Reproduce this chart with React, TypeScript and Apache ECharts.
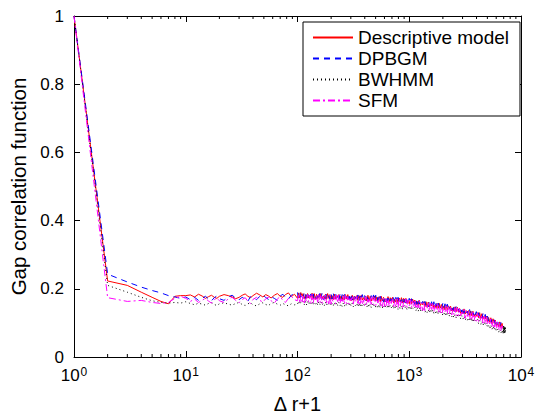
import React, { useEffect, useRef } from "react";
import * as echarts from "echarts";

// Δr+1 sample positions (main samples)
const gapX = [
  1, 2, 3, 4, 5, 6, 7, 8, 9, 10,
  11, 12, 13, 14, 15, 16, 17, 18, 19, 20, 22, 24, 26, 28, 30, 32, 34, 36, 38, 40, 43, 46, 49, 52, 55, 58, 62, 66, 70, 74, 78, 83, 88, 94,
  100, 107, 110, 118, 120, 129, 132, 141, 145, 155, 159, 170, 174, 186, 191, 204, 209, 224, 229, 245, 251, 269, 275, 295, 302, 324, 331, 355, 363, 389, 398, 427, 437, 468, 479, 513, 525, 562, 575, 617, 631, 676, 692, 741, 759, 813, 832, 891, 912, 977,
  1000, 1072, 1096, 1175, 1202, 1288, 1318, 1413, 1445, 1549, 1585, 1698, 1738, 1862, 1905, 2042, 2089, 2239, 2291, 2455, 2512, 2692, 2754, 2951, 3020, 3236, 3311, 3548, 3631, 3890, 3981, 4266, 4365, 4677, 4786, 5129, 5248, 5623, 5754, 6166, 6310, 6761, 6918,
];
// extra interleaved samples of the dense part (100 .. 6918)
const gapXMid = [
  102, 105, 112, 115, 123, 126, 135, 138, 148, 152, 162, 166, 178, 182, 195, 200, 214, 219, 234, 240, 257, 263, 282, 288, 309, 316, 339, 347, 372, 380, 407, 417, 447, 457, 490, 501, 537, 550, 589, 603, 646, 661, 708, 724, 776, 794, 851, 871, 933, 955,
  1023, 1047, 1122, 1148, 1230, 1259, 1349, 1380, 1479, 1514, 1622, 1660, 1778, 1820, 1950, 1995, 2138, 2188, 2344, 2399, 2570, 2630, 2818, 2884, 3090, 3162, 3388, 3467, 3715, 3802, 4074, 4169, 4467, 4571, 4898, 5012, 5370, 5495, 5888, 6026, 6457, 6607,
];

const descriptiveModel = [
  1, 0.223, 0.21, 0.19, 0.175, 0.163, 0.156, 0.178, 0.18, 0.18,
  0.182, 0.176, 0.184, 0.179, 0.172, 0.177, 0.181, 0.175, 0.172, 0.178, 0.183, 0.18, 0.176, 0.171, 0.175, 0.181, 0.185, 0.178, 0.174, 0.18, 0.187, 0.182, 0.176, 0.183, 0.179, 0.173, 0.181, 0.186, 0.178, 0.175, 0.183, 0.188, 0.177, 0.184,
  0.172, 0.189, 0.178, 0.183, 0.172, 0.18, 0.175, 0.186, 0.169, 0.183, 0.175, 0.179, 0.171, 0.186, 0.172, 0.18, 0.168, 0.182, 0.175, 0.179, 0.168, 0.183, 0.17, 0.177, 0.165, 0.178, 0.171, 0.18, 0.167, 0.174, 0.167, 0.181, 0.164, 0.175, 0.169, 0.176, 0.163, 0.178, 0.165, 0.171, 0.16, 0.174, 0.163, 0.17, 0.161, 0.173, 0.161, 0.172, 0.16, 0.167,
  0.156, 0.17, 0.159, 0.164, 0.153, 0.158, 0.153, 0.162, 0.146, 0.158, 0.15, 0.153, 0.144, 0.157, 0.144, 0.15, 0.138, 0.15, 0.142, 0.144, 0.134, 0.146, 0.132, 0.137, 0.126, 0.136, 0.128, 0.135, 0.121, 0.126, 0.12, 0.13, 0.113, 0.12, 0.112, 0.116, 0.102, 0.112, 0.099, 0.101, 0.088, 0.099, 0.084,
];
const descriptiveModelMid = [
  0.188, 0.173, 0.186, 0.171, 0.186, 0.173, 0.187, 0.17, 0.184, 0.171, 0.186, 0.171, 0.184, 0.169, 0.183, 0.169, 0.184, 0.17, 0.183, 0.168, 0.181, 0.168, 0.183, 0.169, 0.181, 0.166, 0.18, 0.166, 0.181, 0.167, 0.179, 0.164, 0.178, 0.164, 0.179, 0.165, 0.177, 0.162, 0.175, 0.162, 0.177, 0.162, 0.175, 0.159, 0.173, 0.159, 0.174, 0.159, 0.172, 0.157,
  0.17, 0.156, 0.167, 0.153, 0.166, 0.151, 0.162, 0.148, 0.161, 0.147, 0.158, 0.144, 0.157, 0.143, 0.154, 0.14, 0.152, 0.138, 0.149, 0.135, 0.147, 0.133, 0.143, 0.128, 0.141, 0.126, 0.136, 0.122, 0.134, 0.119, 0.13, 0.115, 0.127, 0.111, 0.12, 0.104, 0.115, 0.099, 0.108, 0.092, 0.103, 0.087,
];

const dpbgm = [
  1, 0.243, 0.22, 0.205, 0.195, 0.188, 0.18, 0.176, 0.172, 0.176,
  0.168, 0.175, 0.166, 0.172, 0.178, 0.17, 0.165, 0.174, 0.179, 0.171, 0.166, 0.176, 0.181, 0.173, 0.168, 0.175, 0.17, 0.164, 0.177, 0.172, 0.168, 0.178, 0.183, 0.174, 0.169, 0.177, 0.172, 0.166, 0.179, 0.184, 0.175, 0.17, 0.181, 0.187,
  0.189, 0.175, 0.184, 0.171, 0.19, 0.178, 0.185, 0.171, 0.18, 0.175, 0.188, 0.168, 0.184, 0.175, 0.18, 0.17, 0.187, 0.172, 0.181, 0.168, 0.183, 0.175, 0.179, 0.168, 0.184, 0.169, 0.177, 0.164, 0.179, 0.171, 0.181, 0.166, 0.174, 0.167, 0.182, 0.163, 0.175, 0.169, 0.176, 0.162, 0.179, 0.165, 0.171, 0.158, 0.175, 0.161, 0.17, 0.159, 0.174, 0.16,
  0.172, 0.159, 0.166, 0.154, 0.17, 0.157, 0.163, 0.15, 0.157, 0.151, 0.162, 0.144, 0.157, 0.148, 0.152, 0.143, 0.156, 0.142, 0.149, 0.136, 0.148, 0.14, 0.142, 0.13, 0.144, 0.129, 0.134, 0.122, 0.134, 0.124, 0.133, 0.118, 0.123, 0.115, 0.125, 0.105, 0.114, 0.105, 0.109, 0.094, 0.106, 0.091, 0.093,
];
const dpbgmMid = [
  0.173, 0.188, 0.172, 0.188, 0.174, 0.189, 0.172, 0.185, 0.17, 0.187, 0.172, 0.187, 0.17, 0.185, 0.169, 0.185, 0.171, 0.186, 0.169, 0.183, 0.167, 0.184, 0.169, 0.185, 0.167, 0.182, 0.166, 0.182, 0.168, 0.183, 0.165, 0.179, 0.164, 0.18, 0.165, 0.181, 0.163, 0.178, 0.161, 0.178, 0.164, 0.178, 0.161, 0.174, 0.159, 0.175, 0.16, 0.175, 0.158, 0.172,
  0.157, 0.171, 0.154, 0.17, 0.155, 0.168, 0.15, 0.163, 0.147, 0.163, 0.147, 0.162, 0.144, 0.158, 0.141, 0.157, 0.141, 0.155, 0.137, 0.15, 0.133, 0.149, 0.132, 0.146, 0.128, 0.141, 0.123, 0.139, 0.123, 0.135, 0.118, 0.13, 0.114, 0.127, 0.109, 0.12, 0.102, 0.113, 0.096, 0.108, 0.091, 0.101,
];

const bwhmm = [
  1, 0.21, 0.19, 0.175, 0.165, 0.16, 0.158, 0.16, 0.158, 0.162,
  0.157, 0.153, 0.158, 0.155, 0.152, 0.157, 0.159, 0.154, 0.151, 0.156, 0.159, 0.155, 0.152, 0.157, 0.16, 0.154, 0.151, 0.156, 0.159, 0.153, 0.15, 0.156, 0.159, 0.154, 0.151, 0.157, 0.16, 0.155, 0.152, 0.157, 0.153, 0.15, 0.156, 0.153,
  0.154, 0.16, 0.157, 0.163, 0.152, 0.162, 0.156, 0.158, 0.153, 0.163, 0.154, 0.158, 0.151, 0.16, 0.155, 0.157, 0.15, 0.16, 0.151, 0.156, 0.148, 0.157, 0.152, 0.159, 0.149, 0.154, 0.15, 0.158, 0.147, 0.154, 0.15, 0.155, 0.146, 0.155, 0.148, 0.151, 0.143, 0.153, 0.144, 0.15, 0.144, 0.152, 0.144, 0.151, 0.142, 0.147, 0.14, 0.15, 0.143, 0.146,
  0.139, 0.144, 0.14, 0.146, 0.134, 0.142, 0.135, 0.137, 0.131, 0.14, 0.13, 0.134, 0.126, 0.134, 0.128, 0.13, 0.121, 0.13, 0.12, 0.124, 0.115, 0.123, 0.116, 0.121, 0.111, 0.114, 0.108, 0.116, 0.103, 0.108, 0.104, 0.107, 0.096, 0.103, 0.093, 0.093, 0.083, 0.09, 0.079, 0.082, 0.073, 0.079, 0.067,
];
const bwhmmMid = [
  0.164, 0.154, 0.163, 0.153, 0.163, 0.154, 0.163, 0.152, 0.161, 0.152, 0.162, 0.152, 0.161, 0.151, 0.16, 0.15, 0.16, 0.151, 0.16, 0.15, 0.158, 0.149, 0.159, 0.15, 0.158, 0.148, 0.157, 0.147, 0.157, 0.148, 0.156, 0.146, 0.155, 0.145, 0.155, 0.146, 0.154, 0.144, 0.152, 0.143, 0.153, 0.143, 0.152, 0.141, 0.15, 0.14, 0.15, 0.14, 0.149, 0.139,
  0.149, 0.138, 0.146, 0.136, 0.145, 0.134, 0.142, 0.131, 0.139, 0.129, 0.138, 0.128, 0.136, 0.125, 0.133, 0.123, 0.131, 0.121, 0.129, 0.118, 0.125, 0.115, 0.123, 0.112, 0.12, 0.108, 0.115, 0.105, 0.113, 0.102, 0.11, 0.098, 0.105, 0.093, 0.1, 0.088, 0.094, 0.081, 0.087, 0.075, 0.082, 0.07,
];
// the dense black end of the BWHMM curve
const bwhmmTailX = [6940, 6960, 6980, 7000, 7020, 7040, 7060, 7080, 7100, 7120, 7140, 7160, 7180, 7200, 7220, 7240, 7260, 7280];
const bwhmmTail = [0.091, 0.071, 0.09, 0.072, 0.092, 0.07, 0.089, 0.073, 0.09, 0.071, 0.088, 0.072, 0.089, 0.074, 0.087, 0.073, 0.086, 0.076];

const sfm = [
  1, 0.174, 0.163, 0.166, 0.16, 0.157, 0.16, 0.172, 0.178, 0.172,
  0.163, 0.17, 0.16, 0.166, 0.172, 0.164, 0.158, 0.168, 0.173, 0.165, 0.16, 0.17, 0.175, 0.166, 0.159, 0.168, 0.174, 0.163, 0.157, 0.169, 0.175, 0.166, 0.161, 0.171, 0.176, 0.165, 0.158, 0.17, 0.177, 0.166, 0.16, 0.172, 0.178, 0.168,
  0.165, 0.183, 0.162, 0.175, 0.163, 0.181, 0.157, 0.173, 0.164, 0.183, 0.159, 0.177, 0.166, 0.175, 0.156, 0.169, 0.161, 0.182, 0.158, 0.171, 0.159, 0.18, 0.156, 0.171, 0.165, 0.176, 0.162, 0.172, 0.151, 0.168, 0.151, 0.17, 0.157, 0.177, 0.153, 0.166, 0.158, 0.17, 0.147, 0.174, 0.15, 0.167, 0.157, 0.163, 0.146, 0.172, 0.15, 0.161, 0.149, 0.167,
  0.15, 0.165, 0.145, 0.157, 0.144, 0.159, 0.136, 0.151, 0.142, 0.158, 0.135, 0.152, 0.14, 0.147, 0.129, 0.141, 0.132, 0.15, 0.127, 0.138, 0.125, 0.144, 0.12, 0.132, 0.126, 0.134, 0.119, 0.128, 0.107, 0.121, 0.105, 0.12, 0.107, 0.123, 0.098, 0.107, 0.097, 0.106, 0.083, 0.103, 0.079, 0.092, 0.079,
];
const sfmMid = [
  0.184, 0.161, 0.182, 0.158, 0.183, 0.161, 0.184, 0.158, 0.181, 0.157, 0.18, 0.157, 0.182, 0.158, 0.181, 0.155, 0.178, 0.156, 0.181, 0.157, 0.179, 0.154, 0.177, 0.155, 0.179, 0.155, 0.178, 0.152, 0.175, 0.153, 0.177, 0.153, 0.176, 0.15, 0.173, 0.151, 0.175, 0.151, 0.173, 0.148, 0.171, 0.148, 0.173, 0.148, 0.171, 0.145, 0.168, 0.145, 0.17, 0.145,
  0.168, 0.144, 0.164, 0.141, 0.164, 0.139, 0.161, 0.136, 0.157, 0.134, 0.157, 0.133, 0.155, 0.13, 0.151, 0.128, 0.15, 0.126, 0.148, 0.123, 0.143, 0.12, 0.142, 0.117, 0.139, 0.113, 0.133, 0.11, 0.132, 0.107, 0.128, 0.104, 0.123, 0.099, 0.118, 0.094, 0.112, 0.088, 0.105, 0.082, 0.099, 0.076,
];

const seriesNames = ["Descriptive model", "DPBGM", "BWHMM", "SFM"];
const minorTickValues = [
  2, 3, 4, 5, 6, 7, 8, 9,
  20, 30, 40, 50, 60, 70, 80, 90,
  200, 300, 400, 500, 600, 700, 800, 900,
  2000, 3000, 4000, 5000, 6000, 7000, 8000, 9000,
];

const FONT = "'Liberation Sans', Arial, Helvetica, sans-serif";

function merge(ys: number[], mids: number[], tailX: number[] = [], tail: number[] = []) {
  const pts: number[][] = [];
  ys.forEach((y, i) => pts.push([gapX[i], y]));
  mids.forEach((y, i) => pts.push([gapXMid[i], y]));
  tail.forEach((y, i) => pts.push([tailX[i], y]));
  pts.sort((a, b) => a[0] - b[0]);
  return pts;
}

export default function App() {
  const ref = useRef<HTMLDivElement>(null);
  useEffect(() => {
    if (!ref.current) return;
    const chart = echarts.init(ref.current, undefined, { renderer: "svg" });
    const axisLine = { show: true, onZero: false, lineStyle: { color: "#000", width: 1 } };
    const tick = { show: true, inside: true, length: 6, lineStyle: { color: "#000", width: 1 } };
    const lineSeries = (name: string, data: number[][], color: string, type: any) => ({
      name,
      type: "line",
      data,
      showSymbol: false,
      symbol: "none",
      xAxisIndex: 0,
      yAxisIndex: 0,
      lineStyle: { color, width: 1, type },
      itemStyle: { color },
    });
    chart.setOption({
      animation: false,
      backgroundColor: "#fff",
      grid: { left: 74, right: 22, top: 16, bottom: 57 },
      legend: {
        data: seriesNames,
        orient: "vertical",
        left: 303,
        top: 22,
        itemWidth: 40,
        itemHeight: 14,
        itemGap: 2,
        padding: [6, 11, 6, 9],
        borderColor: "#000",
        borderWidth: 1,
        backgroundColor: "#fff",
        itemStyle: { opacity: 0 },
        textStyle: { fontSize: 19, color: "#000", fontFamily: FONT },
      },
      xAxis: [
        {
          type: "log",
          logBase: 10,
          min: 1,
          max: 10000,
          position: "bottom",
          axisLine,
          axisTick: tick,
          splitLine: { show: false },
          axisLabel: {
            margin: 9,
            color: "#000",
            fontFamily: FONT,
            formatter: (v: number) => "{b|10}{s|" + Math.round(Math.log10(v)) + "}",
            rich: {
              b: { fontSize: 17, fontFamily: FONT, color: "#000" },
              s: { fontSize: 12, fontFamily: FONT, color: "#000", verticalAlign: "top", padding: [0, 0, 7, 1] },
            },
          },
          name: "Δ r+1",
          nameLocation: "middle",
          nameGap: 37,
          nameTextStyle: { fontSize: 20, color: "#000", fontFamily: FONT },
        },
        {
          type: "log",
          logBase: 10,
          min: 1,
          max: 10000,
          position: "top",
          axisLine,
          axisTick: tick,
          axisLabel: { show: false },
          splitLine: { show: false },
        },
      ],
      yAxis: [
        {
          type: "value",
          min: 0,
          max: 1,
          interval: 0.2,
          position: "left",
          axisLine,
          axisTick: tick,
          splitLine: { show: false },
          axisLabel: { fontSize: 17, color: "#000", fontFamily: FONT, margin: 10 },
          name: "Gap correlation function",
          nameLocation: "middle",
          nameGap: 42,
          nameTextStyle: { fontSize: 20.5, color: "#000", fontFamily: FONT },
        },
        {
          type: "value",
          min: 0,
          max: 1,
          interval: 0.2,
          position: "right",
          axisLine,
          axisTick: tick,
          axisLabel: { show: false },
          splitLine: { show: false },
        },
      ],
      series: [
        lineSeries(seriesNames[0], merge(descriptiveModel, descriptiveModelMid), "#ff0000", "solid"),
        lineSeries(seriesNames[1], merge(dpbgm, dpbgmMid), "#0000ff", [6, 5]),
        lineSeries(seriesNames[2], merge(bwhmm, bwhmmMid, bwhmmTailX, bwhmmTail), "#000000", [1, 3]),
        lineSeries(seriesNames[3], merge(sfm, sfmMid), "#ff00ff", [7, 3, 2, 3]),
        {
          type: "custom",
          coordinateSystem: "cartesian2d",
          xAxisIndex: 0,
          yAxisIndex: 0,
          silent: true,
          z: 5,
          data: minorTickValues.map((v) => [v, 0]),
          renderItem: (params: any, api: any) => {
            const p = api.coord([api.value(0), 0]);
            const cs = params.coordSys;
            const st = { stroke: "#000", lineWidth: 1 };
            return {
              type: "group",
              children: [
                { type: "line", shape: { x1: p[0], y1: cs.y + cs.height, x2: p[0], y2: cs.y + cs.height - 3 }, style: st },
                { type: "line", shape: { x1: p[0], y1: cs.y, x2: p[0], y2: cs.y + 3 }, style: st },
              ],
            };
          },
        },
      ],
    });
    return () => chart.dispose();
  }, []);
  return (
    <div
      ref={ref}
      style={{ position: "fixed", left: 0, top: 0, width: 543, height: 419, background: "#fff" }}
    />
  );
}
